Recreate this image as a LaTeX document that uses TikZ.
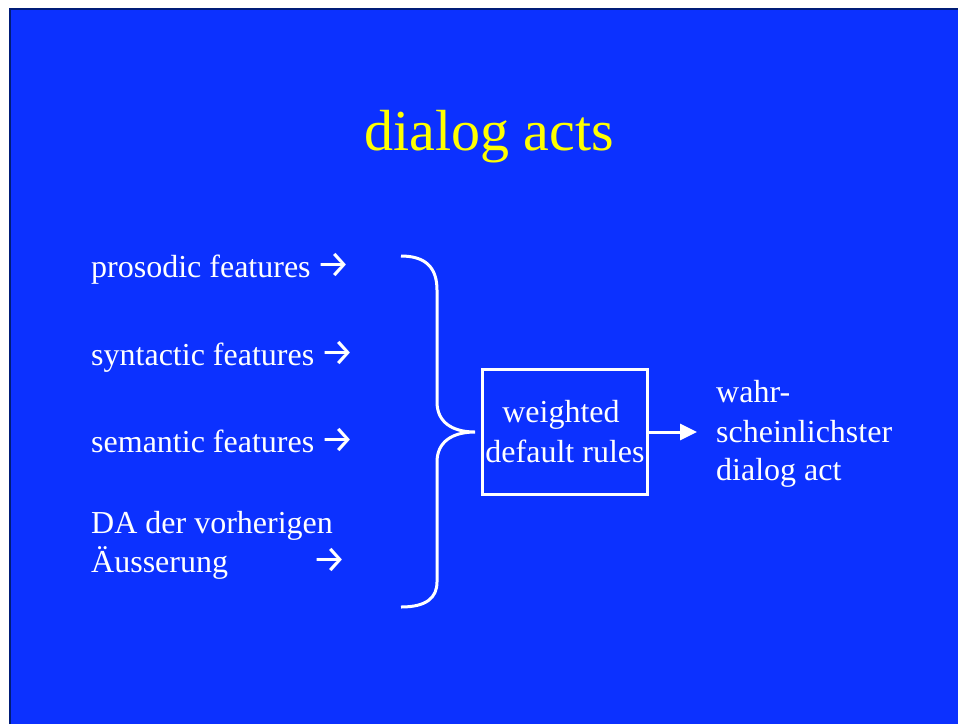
\documentclass[tikz,border=0pt]{standalone}
\usepackage{fontspec}
\setmainfont{Liberation Serif}
\newfontfamily\arrowfont{Fira Sans}
\usetikzlibrary{arrows.meta}
\definecolor{slideblue}{RGB}{12,49,255}
\definecolor{slidenavy}{RGB}{0,28,120}
\definecolor{titleyellow}{RGB}{255,255,0}
\newcommand{\rarr}{{\arrowfont\fontsize{38}{38}\selectfont →}}
\tikzset{
  feat/.style={anchor=base west, text=white, inner sep=0pt, font=\fontsize{32}{39}\selectfont, align=left},
  whiteline/.style={draw=white, line width=3pt},
}
\begin{document}
\begin{tikzpicture}[x=1pt,y=-1pt]
\useasboundingbox (0,0) rectangle (958,724);
\fill[white] (0,0) rectangle (958,724);
\fill[slideblue] (10,8) rectangle (958,724);
\draw[slidenavy, line width=1.5pt] (9.75,724) -- (9.75,8.75) -- (958,8.75);

\node[anchor=base, text=titleyellow, inner sep=0pt, font=\fontsize{58}{60}\selectfont] (title) at (489,150) {dialog acts};

\node[feat] (f1) at (91,277) {prosodic features\hspace{6pt}\rarr};
\node[feat] (f2) at (91,365) {syntactic features\hspace{6pt}\rarr};
\node[feat] (f3) at (91,452) {semantic features\hspace{6pt}\rarr};
\node[feat] (f4) at (91,533) {DA der vorherigen};
\node[feat] (f5) at (91,572) {Äusserung};
\node[feat] (f5a) at (312,572) {\rarr};

\draw[whiteline] (401,256) .. controls (426,256) and (437,268) .. (437,290)
  -- (437,402) .. controls (437,422) and (452,432) .. (475,432)
  .. controls (452,432) and (437,442) .. (437,462)
  -- (437,582) .. controls (437,598) and (426,607) .. (401,607);

\node[whiteline, minimum width=165pt, minimum height=125pt, inner sep=0pt] (box) at (565,432) {};
\node[feat, anchor=base, align=center] (w1) at (561,422) {weighted};
\node[feat, anchor=base, align=center] (w2) at (565,462) {default rules};

\coordinate (tip) at (697,432);
\draw[white, line width=3pt, -{Triangle[length=17pt,width=16pt]}] (box.east) -- (tip);

\node[feat] (r1) at (716,402) {wahr-};
\node[feat] (r2) at (716,442) {scheinlichster};
\node[feat] (r3) at (716,480) {dialog act};
\end{tikzpicture}
\end{document}
